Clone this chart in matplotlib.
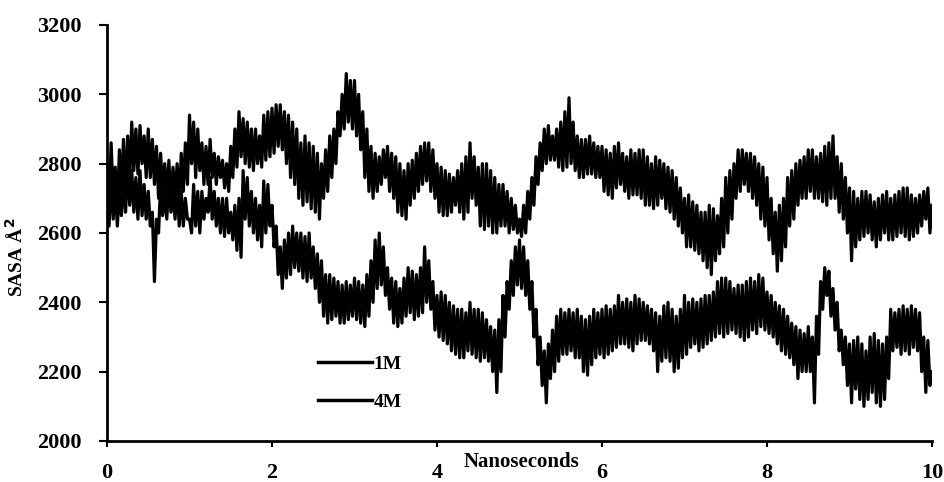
import matplotlib
matplotlib.use('Agg')
import matplotlib.pyplot as plt
import numpy as np

# SASA values, one every 0.025 ns (0.5 ns per row)
time_step = 0.025

sasa_1M = [
    2800, 2680, 2860, 2700, 2790, 2650, 2840, 2720, 2870, 2700, 2880, 2750, 2920, 2780, 2900, 2770, 2910, 2800, 2880, 2760,
    2900, 2760, 2870, 2740, 2850, 2700, 2830, 2720, 2800, 2690, 2810, 2680, 2790, 2700, 2800, 2680, 2830, 2720, 2860, 2740,
    2940, 2800, 2920, 2760, 2900, 2780, 2860, 2740, 2850, 2740, 2870, 2760, 2830, 2740, 2820, 2760, 2810, 2730, 2800, 2720,
    2850, 2760, 2900, 2790, 2950, 2820, 2930, 2800, 2920, 2790, 2900, 2780, 2900, 2800, 2880, 2790, 2940, 2810, 2950, 2820,
    2960, 2830, 2970, 2850, 2970, 2840, 2950, 2800, 2940, 2760, 2920, 2740, 2900, 2700, 2860, 2680, 2880, 2690, 2860, 2670,
    2850, 2660, 2830, 2640, 2800, 2700, 2840, 2720, 2880, 2760, 2900, 2800, 2950, 2880, 3000, 2900, 3060, 2920, 3040, 2900,
    3040, 2880, 3000, 2840, 2950, 2760, 2900, 2720, 2850, 2700, 2830, 2720, 2820, 2740, 2840, 2760, 2850, 2720, 2830, 2700,
    2820, 2660, 2800, 2650, 2780, 2640, 2800, 2680, 2810, 2700, 2830, 2720, 2850, 2740, 2860, 2750, 2860, 2720, 2840, 2700,
    2800, 2660, 2790, 2650, 2780, 2650, 2770, 2660, 2760, 2680, 2780, 2660, 2800, 2640, 2820, 2660, 2860, 2700, 2820, 2680,
    2790, 2620, 2800, 2610, 2800, 2620, 2780, 2600, 2760, 2600, 2740, 2620, 2740, 2620, 2720, 2600, 2700, 2610, 2680, 2600,
    2640, 2590, 2680, 2600, 2720, 2640, 2760, 2680, 2820, 2740, 2860, 2780, 2900, 2800, 2910, 2810, 2880, 2810, 2900, 2790,
    2920, 2780, 2950, 2790, 2990, 2800, 2920, 2780, 2880, 2760, 2870, 2760, 2870, 2770, 2880, 2770, 2860, 2760, 2850, 2760,
    2850, 2720, 2840, 2710, 2830, 2700, 2850, 2730, 2860, 2740, 2830, 2720, 2820, 2700, 2840, 2710, 2830, 2710, 2840, 2700,
    2840, 2680, 2820, 2680, 2800, 2670, 2820, 2680, 2810, 2700, 2800, 2670, 2790, 2660, 2780, 2640, 2760, 2620, 2730, 2600,
    2700, 2560, 2710, 2560, 2690, 2550, 2680, 2540, 2660, 2520, 2660, 2500, 2680, 2480, 2670, 2520, 2650, 2540, 2700, 2560,
    2760, 2600, 2780, 2640, 2800, 2700, 2840, 2720, 2840, 2740, 2830, 2720, 2830, 2700, 2820, 2680, 2800, 2640, 2790, 2620,
    2760, 2580, 2700, 2540, 2660, 2490, 2680, 2520, 2700, 2560, 2760, 2620, 2780, 2640, 2800, 2680, 2810, 2700, 2820, 2700,
    2840, 2720, 2840, 2700, 2820, 2700, 2830, 2690, 2850, 2680, 2860, 2700, 2880, 2700, 2820, 2660, 2800, 2640, 2760, 2600,
    2730, 2520, 2720, 2560, 2700, 2580, 2720, 2590, 2720, 2600, 2710, 2580, 2690, 2560, 2700, 2580, 2710, 2600, 2720, 2580,
    2700, 2580, 2710, 2590, 2720, 2600, 2730, 2590, 2730, 2580, 2710, 2590, 2700, 2600, 2710, 2620, 2720, 2640, 2730, 2600,
    2680,
]

sasa_4M = [
    2700, 2620, 2760, 2640, 2740, 2620, 2720, 2650, 2760, 2660, 2800, 2680, 2780, 2660, 2760, 2640, 2780, 2650, 2740, 2640,
    2720, 2620, 2660, 2460, 2640, 2600, 2740, 2650, 2720, 2640, 2760, 2660, 2720, 2640, 2740, 2620, 2720, 2620, 2700, 2640,
    2640, 2600, 2740, 2620, 2720, 2600, 2720, 2640, 2700, 2660, 2760, 2640, 2720, 2620, 2700, 2600, 2700, 2590, 2700, 2600,
    2660, 2580, 2680, 2550, 2700, 2530, 2780, 2640, 2760, 2620, 2720, 2600, 2700, 2580, 2680, 2560, 2750, 2600, 2740, 2620,
    2680, 2560, 2620, 2480, 2560, 2440, 2580, 2470, 2600, 2480, 2620, 2500, 2600, 2490, 2600, 2470, 2590, 2460, 2600, 2470,
    2560, 2440, 2540, 2400, 2520, 2360, 2480, 2340, 2480, 2350, 2470, 2360, 2460, 2340, 2450, 2340, 2460, 2350, 2450, 2360,
    2470, 2350, 2460, 2340, 2450, 2330, 2480, 2360, 2520, 2400, 2580, 2440, 2600, 2450, 2560, 2420, 2500, 2380, 2470, 2340,
    2460, 2330, 2440, 2340, 2470, 2360, 2500, 2370, 2490, 2350, 2480, 2360, 2500, 2370, 2560, 2400, 2520, 2380, 2460, 2320,
    2420, 2300, 2430, 2290, 2420, 2280, 2400, 2260, 2390, 2250, 2380, 2240, 2380, 2240, 2370, 2260, 2400, 2250, 2380, 2240,
    2380, 2230, 2370, 2240, 2350, 2230, 2330, 2200, 2320, 2140, 2350, 2200, 2420, 2300, 2460, 2380, 2520, 2420, 2560, 2450,
    2580, 2440, 2560, 2420, 2520, 2380, 2460, 2300, 2380, 2220, 2300, 2160, 2260, 2110, 2280, 2180, 2320, 2200, 2360, 2230,
    2380, 2250, 2370, 2250, 2380, 2260, 2370, 2240, 2380, 2240, 2360, 2200, 2350, 2190, 2360, 2220, 2380, 2240, 2370, 2250,
    2380, 2240, 2390, 2250, 2380, 2260, 2390, 2270, 2420, 2280, 2400, 2280, 2410, 2270, 2400, 2260, 2420, 2280, 2410, 2290,
    2400, 2290, 2390, 2280, 2380, 2260, 2370, 2200, 2360, 2230, 2390, 2240, 2400, 2230, 2380, 2200, 2360, 2210, 2380, 2240,
    2420, 2250, 2400, 2270, 2410, 2280, 2400, 2260, 2410, 2270, 2420, 2280, 2420, 2290, 2430, 2300, 2460, 2310, 2470, 2300,
    2470, 2310, 2460, 2320, 2440, 2310, 2450, 2300, 2450, 2290, 2460, 2300, 2470, 2320, 2460, 2310, 2480, 2330, 2470, 2320,
    2430, 2310, 2420, 2300, 2400, 2280, 2390, 2260, 2380, 2250, 2360, 2240, 2340, 2220, 2330, 2180, 2320, 2200, 2310, 2200,
    2330, 2200, 2300, 2110, 2360, 2250, 2460, 2380, 2500, 2420, 2490, 2360, 2440, 2320, 2400, 2260, 2320, 2220, 2300, 2160,
    2280, 2110, 2290, 2150, 2300, 2120, 2280, 2100, 2260, 2120, 2300, 2140, 2310, 2110, 2290, 2100, 2280, 2120, 2300, 2180,
    2380, 2260, 2370, 2270, 2380, 2250, 2390, 2260, 2380, 2250, 2390, 2270, 2380, 2260, 2370, 2200, 2300, 2140, 2290, 2160,
    2200,
]

x_ticks = [0, 2, 4, 6, 8, 10]
y_ticks = [2000, 2200, 2400, 2600, 2800, 3000, 3200]

t_1M = np.arange(len(sasa_1M)) * time_step
t_4M = np.arange(len(sasa_4M)) * time_step

plt.rcParams['font.family'] = ['Liberation Serif', 'DejaVu Serif']
plt.rcParams['font.weight'] = 'bold'

fig = plt.figure(figsize=(9.45, 4.82), dpi=100)
ax = fig.add_axes([107 / 945, 1 - 441 / 482, 825 / 945, 416 / 482])

ax.plot(t_1M, sasa_1M, color='black', lw=2.3, label='1M')
ax.plot(t_4M, sasa_4M, color='black', lw=2.3, label='4M')

ax.set_xlim(0, 10)
ax.set_ylim(2000, 3200)
ax.set_xticks(x_ticks)
ax.set_yticks(y_ticks)
ax.tick_params(axis='y', direction='out', length=6, width=1.5, labelsize=16, pad=12)
ax.tick_params(axis='x', direction='out', length=4, width=1.5, labelsize=16, pad=12)

for s in ['top', 'right']:
    ax.spines[s].set_visible(False)
for s in ['left', 'bottom']:
    ax.spines[s].set_linewidth(2)

ax.set_xlabel('Nanoseconds', fontsize=15, fontweight='bold')
ax.xaxis.set_label_coords(0.502, -0.026)
fig.text(16 / 945, 1 - 257 / 482, 'SASA Å$^2$', rotation=90, ha='center', va='center',
         fontsize=14, fontweight='bold')

leg = ax.legend(loc='center left', bbox_to_anchor=(0.2558, 0.14), frameon=False,
                fontsize=14, handlelength=2.8, handletextpad=0.05, labelspacing=1.05,
                borderpad=0, borderaxespad=0)
for h in leg.get_lines():
    h.set_linewidth(2.5)

fig.savefig('out.png', dpi=100)
